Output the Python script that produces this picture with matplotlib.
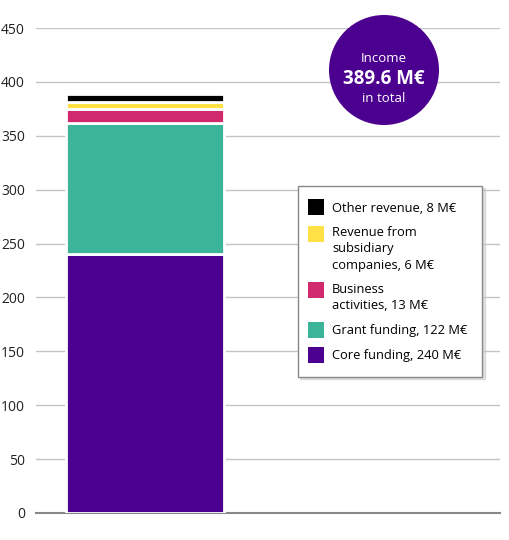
import matplotlib
matplotlib.use('Agg')
from matplotlib import pyplot as plt
from matplotlib.patches import Circle, Patch, Rectangle
from matplotlib.legend_handler import HandlerPatch

# data (M€), bottom to top
categories = ['Core funding', 'Grant funding', 'Business\nactivities',
              'Revenue from\nsubsidiary\ncompanies', 'Other revenue']
values = [240, 122, 13, 6, 8]
colors = ['#4c008f', '#3cb49a', '#d0296e', '#ffe045', '#000000']
total_label = '389.6 M€'
y_ticks = [0, 50, 100, 150, 200, 250, 300, 350, 400, 450]

plt.rcParams['font.family'] = ['Open Sans', 'DejaVu Sans']

fig = plt.figure(figsize=(5.1, 5.4), dpi=100)
ax = fig.add_axes([36 / 510, 27 / 540, 464 / 510, 485 / 540])

bottom = 0
for val, col in zip(values, colors):
    ax.bar(0, val, bottom=bottom, width=1, color=col, edgecolor='white',
           linewidth=2, zorder=3)
    bottom += val

ax.set_xlim(-0.69, 2.247)
ax.set_ylim(0, 450)
ax.set_yticks(y_ticks)
ax.set_xticks([])
ax.grid(axis='y', color='#c4c4c4', linewidth=1, zorder=0)
for s in ['top', 'right', 'left']:
    ax.spines[s].set_visible(False)
ax.spines['bottom'].set_color('#888888')
ax.spines['bottom'].set_linewidth(1.5)
ax.tick_params(axis='y', length=0, pad=8, labelsize=10, labelcolor='#222222')


def top_square(nlines):
    # square swatch lined up with the first line of a multi-line label
    def make(legend, orig_handle, xdescent, ydescent, width, height, fontsize):
        side = 11.5
        shift = (nlines - 1) / 2 * 11.1
        return Rectangle((-xdescent - 3.3, -ydescent + height / 2 - side / 2 + shift),
                         side, side)
    return make


# legend, top item first
labels = [f'{c}, {v} M€' for c, v in zip(categories, values)]
handles = [Patch(facecolor=c, edgecolor='none') for c in colors]
hmap = {h: HandlerPatch(patch_func=top_square(lab.count('\n') + 1))
        for h, lab in zip(handles, labels)}
leg = ax.legend(handles[::-1], labels[::-1], loc='upper left', handler_map=hmap,
                bbox_to_anchor=(298 / 510, 1 - 186 / 540), bbox_transform=fig.transFigure,
                borderaxespad=0, fontsize=9.3, frameon=True, fancybox=False,
                shadow={'ox': 1.5, 'oy': -1.5, 'color': '#cccccc', 'alpha': 0.6},
                edgecolor='#888888', handlelength=0.9, handleheight=1.2,
                labelspacing=0.85, borderpad=1.15, handletextpad=0.6)
for t in leg.get_texts():
    t.set_linespacing(1.34)
leg.get_frame().set_linewidth(1)
leg.set_zorder(5)

# total circle
circ = Circle((3.84, 5.4 - 0.70), 0.55, transform=fig.dpi_scale_trans,
              facecolor='#4c008f', edgecolor='none', zorder=10)
fig.add_artist(circ)
fig.text(384 / 510, 1 - 58 / 540, 'Income', color='white', ha='center', va='center',
         fontsize=9.5, zorder=11)
fig.text(384 / 510, 1 - 79 / 540, total_label, color='white', ha='center', va='center',
         fontsize=13.5, fontweight='bold', zorder=11)
fig.text(384 / 510, 1 - 99 / 540, 'in total', color='white', ha='center', va='center',
         fontsize=9.5, zorder=11)

plt.savefig('out.png', dpi=100)
